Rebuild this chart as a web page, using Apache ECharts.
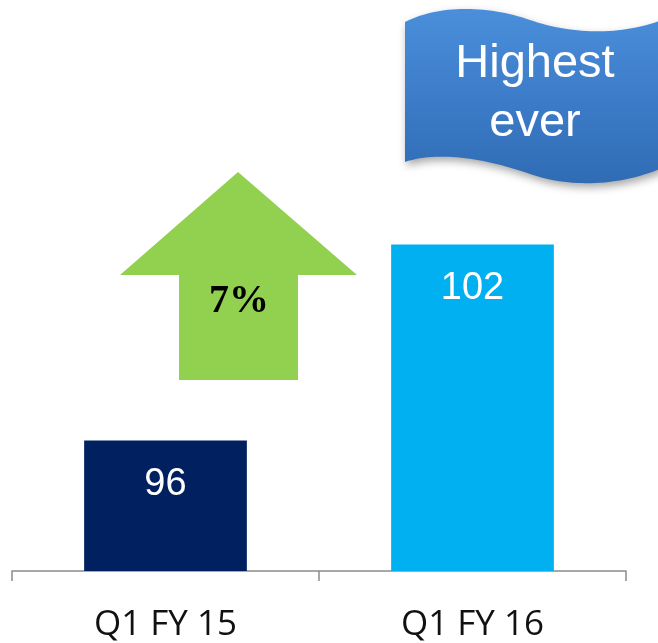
<!DOCTYPE html>
<html>
<head>
<meta charset="utf-8">
<script src="https://cdn.jsdelivr.net/npm/echarts@6/dist/echarts.min.js"></script>
<style>
  html, body { margin: 0; padding: 0; background: #fff; }
  #chart { width: 658px; height: 643px; }
</style>
</head>
<body>
<div id="chart"></div>
<script>
const categories = ['Q1 FY 15', 'Q1 FY 16'];
const values = [96, 102];
const growthText = '7%';
const bannerLines = ['Highest', 'ever'];

const barColors = ['#002060', '#00B0F0'];

// sample a cubic bezier into points for the wavy banner outline
function bez(p0, p1, p2, p3, n) {
  const pts = [];
  for (let i = 0; i <= n; i++) {
    const t = i / n, u = 1 - t;
    pts.push([
      u*u*u*p0[0] + 3*u*u*t*p1[0] + 3*u*t*t*p2[0] + t*t*t*p3[0],
      u*u*u*p0[1] + 3*u*u*t*p1[1] + 3*u*t*t*p2[1] + t*t*t*p3[1]
    ]);
  }
  return pts;
}

const bannerPts = [].concat(
  bez([405, 22], [440, 4], [490, 6], [530, 20], 30),
  bez([530, 20], [570, 34], [620, 36], [662, 20], 30),
  bez([662, 168], [620, 186], [570, 188], [530, 174], 30),
  bez([530, 174], [490, 160], [440, 150], [405, 162], 30)
);

const chart = echarts.init(document.getElementById('chart'));

chart.setOption({
  animation: false,
  grid: { left: 12, right: 32, top: 16, bottom: 72 },
  xAxis: {
    type: 'category',
    data: categories,
    axisLine: { lineStyle: { color: '#8c8c8c', width: 1.5 } },
    axisTick: { show: true, length: 10, lineStyle: { color: '#8c8c8c', width: 1.5 } },
    axisLabel: {
      margin: 37,
      fontSize: 35,
      fontFamily: 'Open Sans',
      color: '#111'
    }
  },
  yAxis: {
    type: 'value',
    min: 92,
    max: 109,
    show: false,
    splitLine: { show: false }
  },
  series: [{
    type: 'bar',
    barWidth: '53%',
    data: values.map((v, i) => ({ value: v, itemStyle: { color: barColors[i] } })),
    label: {
      show: true,
      position: 'insideTop',
      distance: 25,
      color: '#fff',
      fontSize: 38,
      fontFamily: 'Liberation Sans'
    }
  }],
  graphic: [
    {
      type: 'polygon',
      shape: {
        points: [[238, 172], [357, 275], [298, 275], [298, 380], [179, 380], [179, 275], [120, 275]]
      },
      style: { fill: '#92D050' }
    },
    {
      type: 'text',
      x: 239,
      y: 302,
      style: {
        text: growthText,
        fill: '#000',
        font: 'bold 40px "Liberation Serif"',
        align: 'center',
        verticalAlign: 'middle'
      }
    },
    {
      type: 'polygon',
      shape: { points: bannerPts },
      style: {
        fill: new echarts.graphic.LinearGradient(0, 0, 0, 1, [
          { offset: 0, color: '#4A8FDB' },
          { offset: 0.5, color: '#3D7CC9' },
          { offset: 1, color: '#2F6CB4' }
        ]),
        shadowBlur: 8,
        shadowOffsetX: 2,
        shadowOffsetY: 4,
        shadowColor: 'rgba(0,0,0,0.35)'
      }
    },
    {
      type: 'text',
      x: 535,
      y: 64,
      style: {
        text: bannerLines[0],
        fill: '#fff',
        font: '47px "Liberation Sans"',
        align: 'center',
        verticalAlign: 'middle'
      }
    },
    {
      type: 'text',
      x: 535,
      y: 123,
      style: {
        text: bannerLines[1],
        fill: '#fff',
        font: '47px "Liberation Sans"',
        align: 'center',
        verticalAlign: 'middle'
      }
    }
  ]
});
</script>
</body>
</html>
